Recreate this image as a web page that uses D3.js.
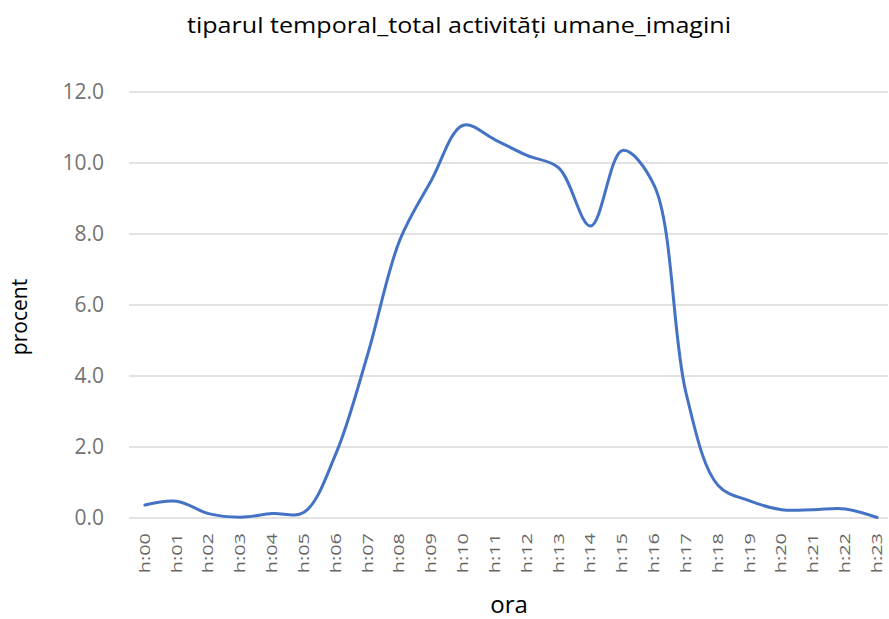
<!DOCTYPE html>
<html><head><meta charset="utf-8">
<script src="https://cdn.jsdelivr.net/npm/d3@7"></script>
<style>body{margin:0;background:#fff}</style>
</head><body>
<svg id="c" width="889" height="619"></svg>
<script>
const hours = ["h:00","h:01","h:02","h:03","h:04","h:05","h:06","h:07","h:08","h:09","h:10","h:11","h:12","h:13","h:14","h:15","h:16","h:17","h:18","h:19","h:20","h:21","h:22","h:23"];
const procent = [0.35,0.46,0.11,0.01,0.11,0.15,1.8,4.6,7.8,9.5,11.05,10.64,10.2,9.85,8.21,10.34,9.35,3.5,0.91,0.47,0.22,0.22,0.24,0.0];
const yTicks = [0,2,4,6,8,10,12];
const titleText = "tiparul temporal_total activități umane_imagini";
const xTitle = "ora", yTitle = "procent";

(function () {
const svg = d3.select("#c");
const mLeft = 129, mRight = 893, mTop = 91.5, mBottom = 517.5;
const x = d3.scaleBand().domain(hours).range([mLeft, mRight]);
const y = d3.scaleLinear().domain([0, 12]).range([mBottom, mTop]);

svg.append("text").attr("x", 459).attr("y", 33).attr("text-anchor", "middle")
  .attr("textLength", 544).attr("lengthAdjust", "spacingAndGlyphs")
  .style("font-family", "'Open Sans', sans-serif").style("font-size", "21px").attr("fill", "#000")
  .text(titleText);

const yAxis = d3.axisLeft(y).tickValues(yTicks).tickSize(0).tickFormat(d3.format(".1f"));
const gy = svg.append("g").attr("transform", `translate(${mLeft},0)`).call(yAxis);
gy.select(".domain").remove();
gy.selectAll(".tick line").attr("x1", 0).attr("x2", 888 - mLeft).attr("stroke", "#d9d9d9").attr("stroke-width", 1.5);
gy.selectAll(".tick text").attr("x", -25).attr("fill", "#737373")
  .style("font-family", "'Open Sans', sans-serif").style("font-size", "21px");

const xAxis = d3.axisBottom(x).tickSize(0);
const gx = svg.append("g").attr("transform", `translate(0,${mBottom})`).call(xAxis);
gx.select(".domain").remove();
gx.selectAll(".tick text").attr("transform", "rotate(-90) scale(1.42,1)").attr("text-anchor", "end")
  .attr("x", -11).attr("y", 0).attr("dy", "0.35em").attr("fill", "#666")
  .style("font-family", "'Open Sans', sans-serif").style("font-size", "14px");

const line = d3.line()
  .x((d, i) => x(hours[i]) + x.bandwidth() / 2)
  .y(d => y(d))
  .curve(d3.curveCatmullRom.alpha(0.5));
svg.append("path").datum(procent).attr("d", line).attr("fill", "none")
  .attr("stroke", "#4472C4").attr("stroke-width", 3).attr("stroke-linecap", "round");

svg.append("text").attr("transform", "translate(27,317) rotate(-90)").attr("text-anchor", "middle")
  .style("font-family", "'Open Sans', sans-serif").style("font-size", "21px").text(yTitle);
svg.append("text").attr("x", 509).attr("y", 613).attr("text-anchor", "middle")
  .style("font-family", "'Open Sans', sans-serif").style("font-size", "24px").text(xTitle);
})();
</script>
</body></html>
